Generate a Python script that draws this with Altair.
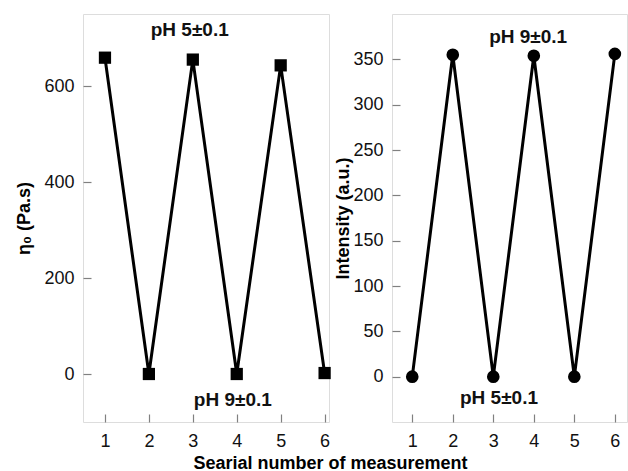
import altair as alt
import pandas as pd

serial = [1, 2, 3, 4, 5, 6]
eta0 = [659, 0, 655, 0, 643, 2]
intensity = [0, 355, 0, 354, 0, 356]

left_notes = ["pH 5±0.1", "pH 9±0.1"]
left_note_x = [2.93, 3.91]
left_note_y = [717, -55]
right_notes = ["pH 9±0.1", "pH 5±0.1"]
right_note_x = [3.86, 3.14]
right_note_y = [375, -24]

FONT = "Liberation Sans"
GRAY = "#808080"

df_l = pd.DataFrame({"n": serial, "v": eta0})
df_r = pd.DataFrame({"n": serial, "v": intensity})
nl = pd.DataFrame({"t": left_notes, "x": left_note_x, "y": left_note_y})
nr = pd.DataFrame({"t": right_notes, "x": right_note_x, "y": right_note_y})

def xaxis(title=None):
    kw = dict(values=serial, tickSize=8, offset=-8, domain=False, grid=False,
              labelPadding=10, labelFontSize=18, labelFont=FONT, labelColor="#111",
              tickColor=GRAY, tickWidth=1.2, format="d")
    if title:
        kw.update(title=title, titleFont=FONT, titleFontSize=18, titleFontWeight="bold",
                  titleX=247, titleY=40, titleAlign="center", titleBaseline="top")
    else:
        kw.update(title=None)
    return alt.Axis(**kw)

def yaxis(vals, title, titlePadding):
    return alt.Axis(values=vals, tickSize=8, offset=-8, domain=False, grid=False,
                    labelPadding=9, labelFontSize=18, labelFont=FONT, labelColor="#111",
                    tickColor=GRAY, tickWidth=1.2, title=title, titleFont=FONT,
                    titleFontSize=18, titleFontWeight="bold", titlePadding=titlePadding)

xs_l = alt.Scale(domain=[0.5, 6.1], nice=False, zero=False)
ys_l = alt.Scale(domain=[-100, 750], nice=False, zero=False)
xs_r = alt.Scale(domain=[0.5, 6.3], nice=False, zero=False)
ys_r = alt.Scale(domain=[-50, 400], nice=False, zero=False)

base_l = alt.Chart(df_l).encode(
    x=alt.X("n:Q", scale=xs_l, axis=xaxis("Searial number of measurement")),
    y=alt.Y("v:Q", scale=ys_l, axis=yaxis([0, 200, 400, 600], "η₀ (Pa.s)", 10)),
)
line_l = base_l.mark_line(color="black", strokeWidth=3)
pts_l = base_l.mark_point(shape="square", filled=True, color="black", size=150, opacity=1)
txt_l = alt.Chart(nl).mark_text(font=FONT, fontSize=19, fontWeight="bold", color="#111").encode(
    x=alt.X("x:Q", scale=xs_l), y=alt.Y("y:Q", scale=ys_l), text="t:N")
left = alt.layer(line_l, pts_l, txt_l).properties(width=246, height=408)

base_r = alt.Chart(df_r).encode(
    x=alt.X("n:Q", scale=xs_r, axis=xaxis()),
    y=alt.Y("v:Q", scale=ys_r, axis=yaxis(list(range(0, 351, 50)), "Intensity (a.u.)", 0)),
)
line_r = base_r.mark_line(color="black", strokeWidth=3)
pts_r = base_r.mark_point(shape="circle", filled=True, color="black", size=160, opacity=1)
txt_r = alt.Chart(nr).mark_text(font=FONT, fontSize=19, fontWeight="bold", color="#111").encode(
    x=alt.X("x:Q", scale=xs_r), y=alt.Y("y:Q", scale=ys_r), text="t:N")
right = alt.layer(line_r, pts_r, txt_r).properties(width=235, height=408)

chart = alt.hconcat(left, right, spacing=63, bounds="flush").properties(
    padding={"left": 15, "top": 13, "right": 0, "bottom": 0}
).configure_view(stroke=GRAY, strokeWidth=1.3).configure(background="white")

chart.save("out.html", embed_options={"renderer": "svg", "actions": False})
